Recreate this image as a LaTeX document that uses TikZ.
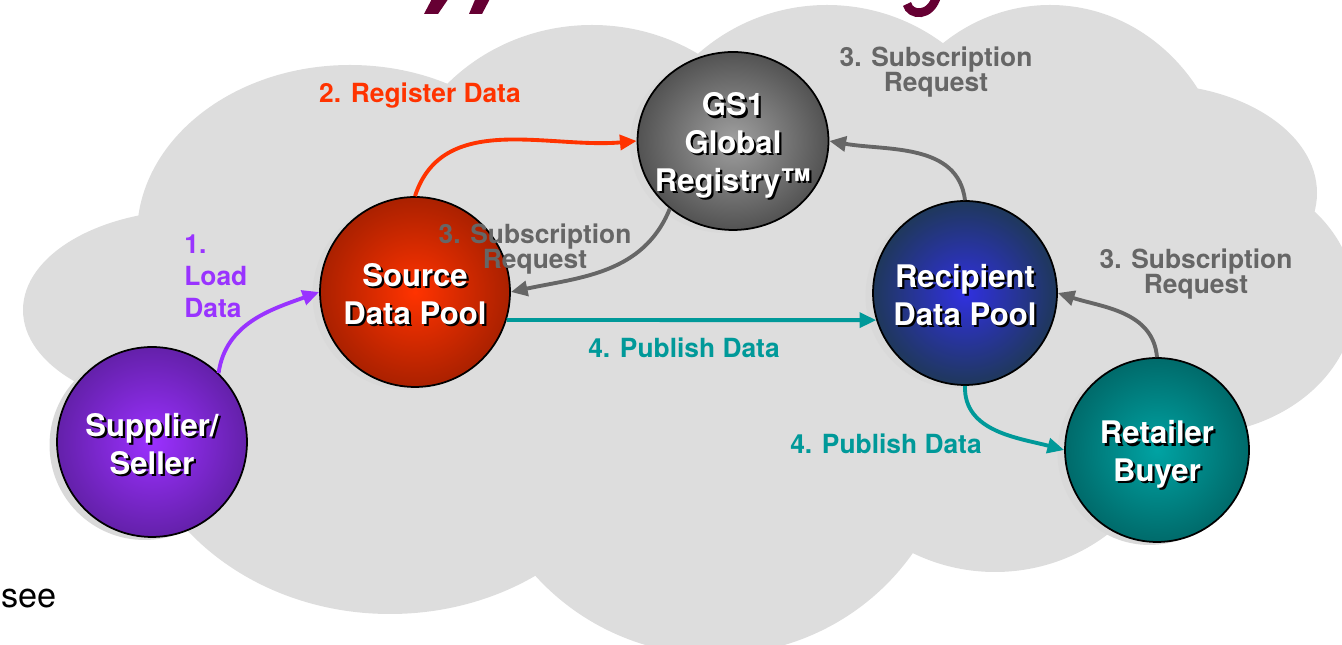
\documentclass[tikz,border=0pt]{standalone}
\usepackage{fontspec}
\setmainfont{TeX Gyre Heros}
\usetikzlibrary{arrows.meta, shapes.geometric, shadows}

\definecolor{cloud}{HTML}{DDDDDD}
\definecolor{loadpurple}{HTML}{9933FF}
\definecolor{regred}{HTML}{FF3300}
\definecolor{subgray}{HTML}{666666}
\definecolor{pubteal}{HTML}{009999}
\definecolor{titlemaroon}{HTML}{660033}
\definecolor{supin}{HTML}{9B30FF}\definecolor{supout}{HTML}{3E1670}
\definecolor{srcin}{HTML}{FF3300}\definecolor{srcout}{HTML}{701400}
\definecolor{gsin}{HTML}{A0A0A0}\definecolor{gsout}{HTML}{1E1E1E}
\definecolor{recin}{HTML}{3030E0}\definecolor{recout}{HTML}{163C16}
\definecolor{retin}{HTML}{00A3A3}\definecolor{retout}{HTML}{004444}

\pgfdeclareradialshading{supball}{\pgfpoint{0bp}{0bp}}{color(0bp)=(supin); color(42bp)=(supout); color(50bp)=(supout)}
\pgfdeclareradialshading{srcball}{\pgfpoint{0bp}{0bp}}{color(0bp)=(srcin); color(42bp)=(srcout); color(50bp)=(srcout)}
\pgfdeclareradialshading{gsball}{\pgfpoint{0bp}{0bp}}{color(0bp)=(gsin); color(42bp)=(gsout); color(50bp)=(gsout)}
\pgfdeclareradialshading{recball}{\pgfpoint{0bp}{0bp}}{color(0bp)=(recin); color(38bp)=(recout); color(50bp)=(recout)}
\pgfdeclareradialshading{retball}{\pgfpoint{0bp}{0bp}}{color(0bp)=(retin); color(42bp)=(retout); color(50bp)=(retout)}

% white name with a dark shadow
\newcommand{\ballname}[3][-0.04cm]{%
\node[ballshadow] at ([xshift=1.3pt,yshift=-1.3pt+#1]#2) {#3};
\node[balltext] at ([yshift=#1]#2) {#3};}

\begin{document}
\begin{tikzpicture}[x=0.02cm, y=0.02cm,
ball/.style={circle, draw=black, line width=1pt, inner sep=0pt, minimum size=3.8cm,
  drop shadow={shadow xshift=-0.15cm, shadow yshift=-0.06cm, fill=black!15, opacity=1}},
balltext/.style={text=white, font=\bfseries\fontsize{17.7}{21.5}\selectfont, align=center, inner sep=0pt},
ballshadow/.style={balltext, text=black},
lbl/.style={font=\bfseries\fontsize{15}{14.5}\selectfont, align=center, inner sep=0pt},
flow/.style={line width=2.2pt, -{Triangle[length=9.5pt, width=8.5pt]}}]
\useasboundingbox (0,0) rectangle (1342,645);
\clip (0,0) rectangle (1342,645);

% cloud
\fill[cloud] (195,335) ellipse [x radius=172, y radius=100]
  (350,410) ellipse [x radius=213, y radius=170]
  (592,430) ellipse [x radius=200, y radius=190]
  (827,445) ellipse [x radius=195, y radius=195]
  (1050,445) ellipse [x radius=180, y radius=195]
  (1150,452) ellipse [x radius=167, y radius=109]
  (1190,345) ellipse [x radius=165, y radius=135]
  (995,255) ellipse [x radius=185, y radius=182]
  (715,225) ellipse [x radius=240, y radius=235]
  (390,255) ellipse [x radius=260, y radius=224]
  (700,315) ellipse [x radius=400, y radius=200];

% bits of the title
\fill[titlemaroon] (434,650) -- (451,650) -- (438,631) -- (424,631) -- cycle;
\fill[titlemaroon] (477,650) -- (492,650) -- (482,631) -- (469,631) -- cycle;
\draw[titlemaroon, line width=5pt] (907,641) .. controls (910,629) and (931,627) .. (937,650);

\node[anchor=base west, font=\fontsize{19.5}{19.5}\selectfont, inner sep=0pt] (see) at (1,37) {see};

\node[ball, shading=supball] (sup) at (152,203) {};
\node[ball, shading=srcball] (src) at (415,353) {};
\node[ball, ellipse, shading=gsball, minimum width=3.82cm, minimum height=3.56cm] (gs) at (733,504) {};
\node[ball, shading=recball, minimum size=3.68cm] (rec) at (965,352) {};
\node[ball, shading=retball, minimum size=3.68cm] (ret) at (1157,195) {};

\ballname{sup}{Supplier/\\Seller}
\ballname{src}{Source\\Data Pool}
\ballname[-0.09cm]{gs}{GS1\\Global\\Registry™}
\ballname{rec}{Recipient\\Data Pool}
\ballname[-0.09cm]{ret}{Retailer\\Buyer}

\draw[flow, loadpurple] (sup.46) to[out=82, in=200] (src.west);
\draw[flow, regred] (src.north) to[out=72, in=185] (gs.west);
\draw[flow, subgray] (gs.-133) to[out=-112, in=12] (src.east);
\draw[flow, subgray] (rec.north) to[out=97, in=-10] (gs.east);
\draw[flow, subgray] (ret.north) to[out=95, in=-18] (rec.east);
\draw[flow, pubteal] (src.-17) -- (rec.197);
\draw[flow, pubteal] (rec.south) to[out=-92, in=165] (ret.west);

\node[lbl, loadpurple, align=left, anchor=west, font=\bfseries\fontsize{15}{18.2}\selectfont] (load) at (184,369) {1.\\Load\\Data};
\node[lbl, regred] (reg) at (420,549) {2. Register Data};
\node[lbl, subgray] (subtop) at (936,573) {3. Subscription\\Request};
\node[lbl, subgray] (submid) at (535,396) {3. Subscription\\Request};
\node[lbl, subgray] (subright) at (1196,371) {3. Subscription\\Request};
\node[lbl, pubteal] (pubmid) at (684,297) {4. Publish Data};
\node[lbl, pubteal] (publow) at (886,201) {4. Publish Data};
\end{tikzpicture}
\end{document}
